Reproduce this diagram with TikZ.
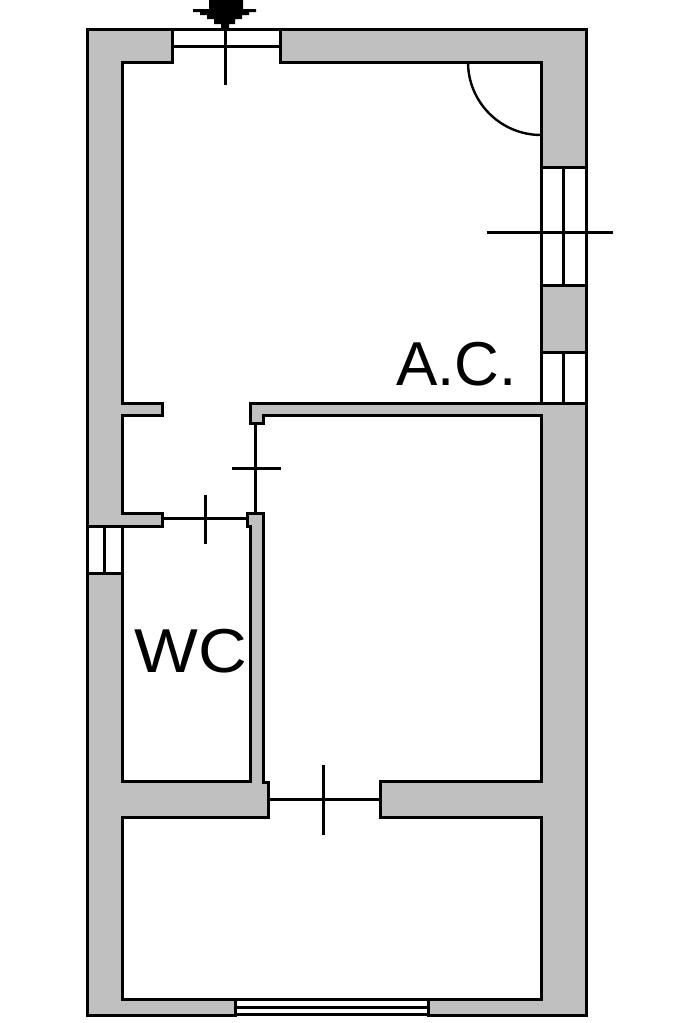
\documentclass[tikz,border=0pt]{standalone}
\usepackage{fontspec}
\setmainfont{Liberation Sans}
\tikzset{
  wallpart/.style={draw=black,fill=wallgray,line width=3pt,line join=miter},
  pane/.style={draw=black,fill=white,line width=3pt},
  paneline/.style={draw=black,line width=3pt},
  doorline/.style={draw=black,line width=3pt},
  roomlabel/.style={inner sep=0pt,font=\fontsize{62}{62}\selectfont}
}
\definecolor{wallgray}{HTML}{C0C0C0}
\begin{document}
\begin{tikzpicture}[x=1pt,y=-1pt]
\useasboundingbox (0,0) rectangle (683,1023);
% window panes
\draw[pane] (172,29) rectangle (280,46);
\draw[pane] (541,167) rectangle (586,285);
\draw[pane] (541,352) rectangle (586,403);
\draw[pane] (87,526) rectangle (122,573);
\draw[pane] (235,999) rectangle (428,1014.5);
\draw[paneline] (563,167) -- (563,285);
\draw[paneline] (563,352) -- (563,403);
\draw[paneline] (104,526) -- (104,573);
\draw[paneline] (235,1007.5) -- (428,1007.5);
% walls
\draw[wallpart] (172,29) -- (87,29) -- (87,526) -- (122,526) -- (162,526) -- (162,513) -- (122,513) -- (122,415) -- (162,415) -- (162,403) -- (122,403) -- (122,62) -- (172,62) -- cycle;
\draw[wallpart] (87,573) -- (87,1015) -- (235,1015) -- (235,999) -- (122,999) -- (122,817) -- (268,817) -- (268,782) -- (263,782) -- (263,513) -- (247,513) -- (247,526) -- (250,526) -- (250,781) -- (122,781) -- (122,573) -- cycle;
\draw[wallpart] (280,29) -- (586,29) -- (586,167) -- (541,167) -- (541,62) -- (280,62) -- cycle;
\draw[wallpart] (541,285) rectangle (586,352);
\draw[wallpart] (250,403) -- (586,403) -- (586,1015) -- (428,1015) -- (428,999) -- (541,999) -- (541,817) -- (380,817) -- (380,781) -- (541,781) -- (541,415) -- (263,415) -- (263,423) -- (250,423) -- cycle;
% doors
\coordinate (hallL) at (162,518);
\coordinate (hallR) at (247,518);
\coordinate (wcT) at (255,423);
\coordinate (wcB) at (255,513);
\coordinate (backL) at (268,799);
\coordinate (backR) at (380,799);
\draw[doorline] (hallL) -- (hallR);
\draw[doorline] (wcT) -- (wcB);
\draw[doorline] (backL) -- (backR);
\draw[doorline] (205,495) -- (205,544);
\draw[doorline] (232,468) -- (281,468);
\draw[doorline] (323,765) -- (323,835);
\draw[doorline] (225,29) -- (225,85);
\draw[doorline] (487,232) -- (613,232);
\draw[doorline,line width=2.4pt] (468,62) arc[start angle=180,end angle=90,radius=73];
% entrance arrow
\fill[black] (209,0) -- (243,0) -- (243,9) -- (256,9) -- (256,12) -- (249,12) -- (249,15) -- (242,15) -- (242,19) -- (235,19) -- (235,24) -- (229,24) -- (229,28) -- (221,28) -- (221,24) -- (214,24) -- (214,19) -- (207,19) -- (207,15) -- (200,15) -- (200,12) -- (193,12) -- (193,9) -- (209,9) -- cycle;
% room names
\node[roomlabel,anchor=base west] (ac) at (396,385) {A.C.};
\node[roomlabel,anchor=base west,xscale=1.09] (wc) at (134,672) {WC};
\end{tikzpicture}
\end{document}
